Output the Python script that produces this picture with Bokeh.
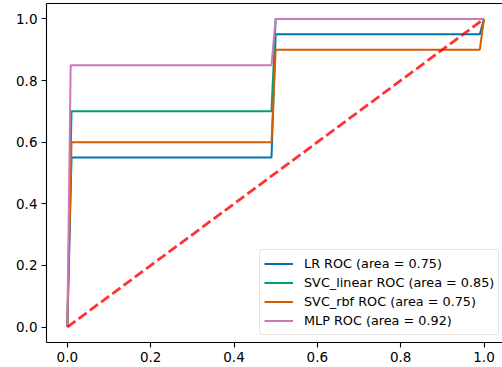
from bokeh.plotting import figure
from bokeh.models import Range1d, FixedTicker, PrintfTickFormatter, Legend, LegendItem, LinearAxis
from bokeh.embed import file_html
from bokeh.resources import INLINE

# ---- data ----
lr_fpr = [0.0, 0.01, 0.49, 0.50, 0.99, 1.0]
lr_tpr = [0.0, 0.55, 0.55, 0.95, 0.95, 1.0]
svc_linear_fpr = [0.0, 0.01, 0.49, 0.50, 1.0]
svc_linear_tpr = [0.0, 0.70, 0.70, 1.00, 1.0]
svc_rbf_fpr = [0.0, 0.01, 0.49, 0.50, 0.99, 1.0]
svc_rbf_tpr = [0.0, 0.60, 0.60, 0.90, 0.90, 1.0]
mlp_fpr = [0.0, 0.008, 0.49, 0.50, 1.0]
mlp_tpr = [0.0, 0.85, 0.85, 1.00, 1.0]
chance_x = [0.0, 1.0]
chance_y = [0.0, 1.0]

labels = ["LR ROC (area = 0.75)", "SVC_linear ROC (area = 0.85)",
          "SVC_rbf ROC (area = 0.75)", "MLP ROC (area = 0.92)"]
colors = ["#0173b2", "#029e73", "#d55e00", "#cc78bc"]
ticks = [0.0, 0.2, 0.4, 0.6, 0.8, 1.0]

FONT = "DejaVu Sans"
TICK_FS = "13.5px"
LEG_FS = "12.8px"

p = figure(width=502, height=367, output_backend="svg", toolbar_location=None,
           x_range=Range1d(-0.05, 1.0444), y_range=Range1d(-0.05, 1.05),
           min_border_left=46, min_border_right=0, min_border_top=3, min_border_bottom=25)
p.outline_line_color = None
p.xgrid.visible = False
p.ygrid.visible = False
p.background_fill_color = "white"
p.border_fill_color = "white"

for ax in (p.xaxis[0], p.yaxis[0]):
    ax.ticker = FixedTicker(ticks=ticks)
    ax.formatter = PrintfTickFormatter(format="%.1f")
    ax.major_tick_out = 5
    ax.major_tick_in = 0
    ax.minor_tick_out = 0
    ax.minor_tick_in = 0
    ax.axis_line_color = "black"
    ax.axis_line_width = 1.1
    ax.major_tick_line_color = "black"
    ax.major_tick_line_width = 1.1
    ax.major_label_text_font = FONT
    ax.major_label_text_font_size = TICK_FS
    ax.major_label_text_color = "black"
p.xaxis[0].major_label_standoff = 4
p.yaxis[0].major_label_standoff = 4

top = LinearAxis(ticker=FixedTicker(ticks=[]), major_tick_out=0, major_tick_in=0,
                 minor_tick_out=0, minor_tick_in=0, major_label_standoff=0,
                 major_label_text_font_size="0px", axis_line_color="black",
                 axis_line_width=1.1)
p.add_layout(top, "above")

series = [(lr_fpr, lr_tpr), (svc_linear_fpr, svc_linear_tpr),
          (svc_rbf_fpr, svc_rbf_tpr), (mlp_fpr, mlp_tpr)]
items = []
for (fx, ty), c, lab in zip(series, colors, labels):
    r = p.line(fx, ty, line_color=c, line_width=2)
    items.append(LegendItem(label=lab, renderers=[r]))

p.line(chance_x, chance_y, line_color="red", line_alpha=0.8, line_width=2.8,
       line_dash="10 4")

legend = Legend(items=items, location=(213, 7), margin=0, padding=4, spacing=0,
                glyph_width=29, glyph_height=19, label_height=19, label_standoff=11,
                label_text_font=FONT, label_text_font_size=LEG_FS, label_text_color="black",
                border_line_color="#cccccc", border_line_width=1, border_radius=3,
                background_fill_color="white", background_fill_alpha=0.8)
p.add_layout(legend, "center")

open("out.html", "w").write(file_html(p, INLINE))
